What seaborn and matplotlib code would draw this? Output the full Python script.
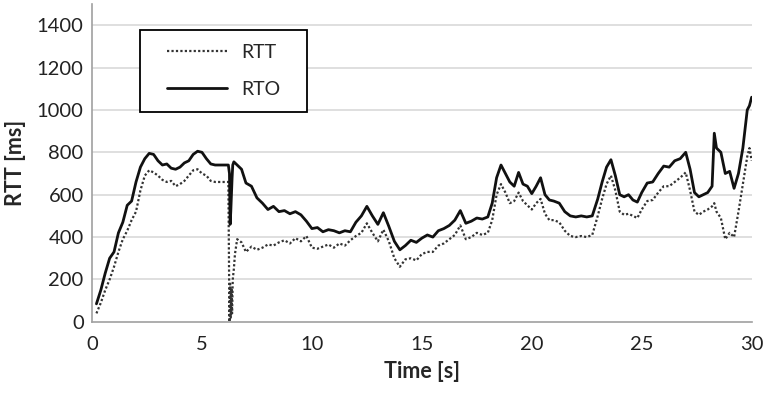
import numpy as np
import pandas as pd
import matplotlib
matplotlib.use('Agg')
import matplotlib.pyplot as plt
from matplotlib.patches import Rectangle
import seaborn as sns

# time axis [s], shared by both series
time_s = [0.2, 0.4, 0.6, 0.8, 1.0, 1.2, 1.4, 1.6, 1.8, 2.0, 2.2, 2.4, 2.6, 2.8, 3.0,
          3.2, 3.4, 3.6, 3.8, 4.0, 4.2, 4.4, 4.6, 4.8, 5.0, 5.2, 5.4, 5.6, 5.8, 6.0, 6.2,
          6.25, 6.28, 6.31, 6.34, 6.37, 6.4, 6.45, 6.5, 6.6,
          6.8, 7.0, 7.25, 7.5, 7.75, 8.0, 8.25, 8.5, 8.75, 9.0, 9.25, 9.5, 9.75, 10.0,
          10.25, 10.5, 10.75, 11.0, 11.25, 11.5, 11.75, 12.0, 12.25, 12.5, 12.75, 13.0,
          13.25, 13.5, 13.75, 14.0, 14.25, 14.5, 14.75, 15.0, 15.25, 15.5, 15.75, 16.0,
          16.25, 16.5, 16.75, 17.0, 17.25, 17.5, 17.75, 18.0, 18.2, 18.4, 18.6, 18.8,
          19.0, 19.2, 19.4, 19.6, 19.8, 20.0, 20.2, 20.4, 20.6, 20.8, 21.0, 21.25, 21.5,
          21.75, 22.0, 22.25, 22.5, 22.75, 23.0, 23.2, 23.4, 23.6, 23.8, 24.0, 24.2,
          24.4, 24.6, 24.8, 25.0, 25.25, 25.5, 25.75, 26.0, 26.25, 26.5, 26.75, 27.0,
          27.2, 27.4, 27.6, 27.8, 28.0, 28.2, 28.3, 28.4, 28.6, 28.8, 29.0, 29.2, 29.4,
          29.6, 29.8, 29.9, 30.0]

rto_ms = [85, 150, 230, 300, 330, 420, 470, 550, 570, 660, 730, 770, 795, 790, 760,
          740, 745, 725, 720, 730, 750, 760, 790, 805, 800, 770, 745, 740, 740, 740, 740,
          700, 460, 520, 600, 680, 740, 755, 750, 740,
          720, 655, 640, 585, 560, 530, 545, 520, 525, 510, 520, 505, 475, 440,
          445, 425, 435, 430, 420, 430, 425, 470, 500, 545, 500, 460,
          515, 450, 380, 340, 360, 385, 375, 395, 410, 400, 430, 440,
          455, 480, 525, 465, 475, 490, 485, 495, 560, 680, 740, 700,
          660, 640, 705, 650, 640, 605, 640, 680, 600, 575, 570, 560, 520,
          500, 495, 500, 495, 500, 580, 660, 730, 765, 690, 600, 590,
          600, 575, 565, 610, 655, 660, 700, 735, 730, 760, 770, 800,
          720, 610, 590, 600, 610, 640, 890, 820, 800, 700, 710, 630, 700,
          820, 1000, 1020, 1060]

rtt_ms = [40, 90, 150, 200, 260, 330, 390, 430, 480, 520, 620, 690, 715, 705, 690,
          670, 660, 665, 640, 650, 665, 690, 715, 720, 700, 690, 665, 660, 660, 660, 660,
          0, 180, 20, 160, 40, 200, 250, 320, 390,
          375, 330, 355, 340, 350, 365, 360, 375, 385, 370, 395, 380, 405, 350,
          345, 355, 365, 350, 370, 360, 385, 405, 420, 465, 420, 380,
          435, 380, 300, 260, 295, 300, 290, 320, 330, 330, 360, 370,
          390, 410, 455, 390, 400, 420, 410, 420, 480, 600, 650, 610,
          560, 570, 610, 570, 550, 530, 560, 580, 510, 480, 480, 470, 430,
          405, 400, 405, 400, 410, 500, 580, 650, 690, 620, 520, 505,
          510, 500, 490, 530, 570, 575, 610, 640, 640, 660, 680, 705,
          620, 520, 505, 520, 530, 545, 560, 520, 490, 390, 420, 400, 520,
          650, 780, 820, 760]

y_ticks = [0, 200, 400, 600, 800, 1000, 1200, 1400]
x_ticks = [0, 5, 10, 15, 20, 25, 30]

df = pd.DataFrame({'time': time_s, 'RTT': rtt_ms, 'RTO': rto_ms})

sns.set_style('white')
plt.rcParams['font.family'] = ['Lato', 'DejaVu Sans']

fig = plt.figure(figsize=(7.67, 3.93), dpi=100)
ax = fig.add_axes([0.12, 0.181, 0.86, 0.809])

sns.lineplot(data=df, x='time', y='RTT', ax=ax, color='#333333', linestyle=(0, (1, 1)),
             linewidth=1.6, estimator=None, sort=False, label='RTT')
sns.lineplot(data=df, x='time', y='RTO', ax=ax, color='#111111', linestyle='-',
             linewidth=2.0, estimator=None, sort=False, label='RTO')

ax.set_xlim(0, 30)
ax.set_ylim(0, 1500)
ax.set_xticks(x_ticks)
ax.set_yticks(y_ticks)
for v in y_ticks[1:]:
    ax.axhline(v, color='#d9d9d9', linewidth=1.2, zorder=0)

for s in ['top', 'right']:
    ax.spines[s].set_visible(False)
ax.spines['left'].set_color('#a0a0a0')
ax.spines['bottom'].set_color('#a0a0a0')
ax.spines['left'].set_linewidth(1.2)
ax.spines['bottom'].set_linewidth(1.2)
ax.tick_params(axis='x', direction='inout', length=10, width=1.2, color='#a0a0a0',
               labelsize=14.5, pad=5, labelcolor='#222222')
ax.tick_params(axis='y', length=0, labelsize=14.5, pad=6, labelcolor='#222222')

ax.set_xlabel('Time [s]', fontsize=15.5, fontweight='bold', labelpad=6)
ax.set_ylabel('RTT [ms]', fontsize=15.5, fontweight='bold', labelpad=8)

# legend: frame drawn as a box, entries centred inside it
ax.add_patch(Rectangle((0.073, 0.66), 0.253, 0.258, transform=ax.transAxes,
                       facecolor='white', edgecolor='black', linewidth=1.3, zorder=4))
leg = ax.legend(loc='center', bbox_to_anchor=(0.1995, 0.789), frameon=False,
                fontsize=14, handlelength=3.1, labelspacing=1.0, handletextpad=0.7,
                borderpad=0, borderaxespad=0)
leg.set_zorder(5)

plt.savefig('out.png', dpi=100)
plt.close()
